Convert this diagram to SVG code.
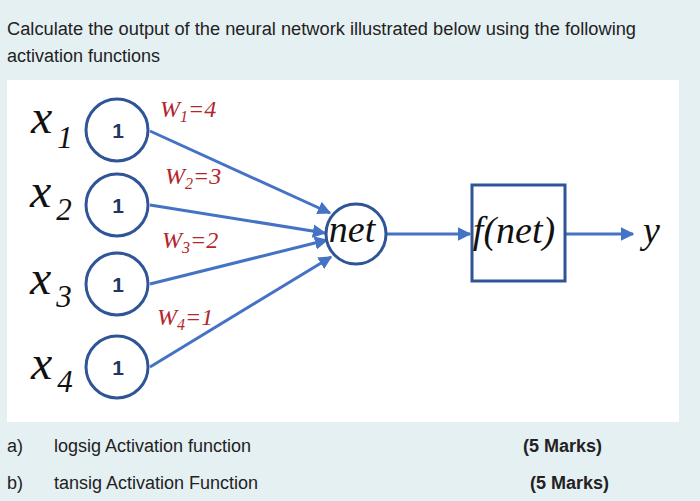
<svg xmlns="http://www.w3.org/2000/svg" width="700" height="501" viewBox="0 0 700 501">
<defs>
<style>
.bg{fill:#e5f0f3}
.panel{fill:#ffffff}
.q{font-family:"Liberation Sans",Arial,sans-serif;font-size:18px;fill:#222}
.qb{font-family:"Liberation Sans",Arial,sans-serif;font-size:18px;font-weight:bold;fill:#222}
.node{fill:#fff;stroke:#2f5597;stroke-width:3}
.one{font-family:"Liberation Sans",Arial,sans-serif;font-size:21px;font-weight:bold;fill:#1f3864;text-anchor:middle}
.xl{font-family:"Liberation Serif","Times New Roman",serif;font-style:italic;font-size:48px;fill:#111}
.xs{font-size:31px}
.w{font-family:"Liberation Serif","Times New Roman",serif;font-style:italic;font-size:24px;fill:#b3262c}
.ws{font-size:16px}
.m{font-family:"Liberation Serif","Times New Roman",serif;font-style:italic;font-size:38px;fill:#111}
.edge{stroke:#4472c4;stroke-width:3;fill:none;marker-end:url(#ah)}
</style>
<marker id="ah" viewBox="0 0 10 10" refX="9" refY="5" markerWidth="4.5" markerHeight="4.5" orient="auto" markerUnits="strokeWidth">
<path d="M0,0 L10,5 L0,10 z" fill="#4472c4"/>
</marker>
</defs>
<rect class="bg" x="0" y="0" width="700" height="501"/>
<rect class="panel" x="7" y="80" width="672" height="342"/>
<text class="q" x="7" y="35" textLength="629" lengthAdjust="spacingAndGlyphs">Calculate the output of the neural network illustrated below using the following</text>
<text class="q" x="7" y="62">activation functions</text>

<g id="connectors">
<line class="edge" x1="150" y1="131" x2="330" y2="213"/>
<line class="edge" x1="150" y1="205" x2="325" y2="233"/>
<line class="edge" x1="150" y1="284" x2="327" y2="240"/>
<line class="edge" x1="150" y1="367" x2="331" y2="257"/>
<line class="edge" x1="387" y1="234" x2="470" y2="234"/>
<line class="edge" x1="566" y1="234" x2="633" y2="234"/>
</g>

<g id="w1"><text class="w" x="160" y="117">W<tspan class="ws" dy="5">1</tspan><tspan dy="-5">=4</tspan></text></g>
<g id="w2"><text class="w" x="165" y="184">W<tspan class="ws" dy="5">2</tspan><tspan dy="-5">=3</tspan></text></g>
<g id="w3"><text class="w" x="162" y="248">W<tspan class="ws" dy="5">3</tspan><tspan dy="-5">=2</tspan></text></g>
<g id="w4"><text class="w" x="157" y="325">W<tspan class="ws" dy="5">4</tspan><tspan dy="-5">=1</tspan></text></g>

<g id="x1">
<text class="xl" x="31" y="133">x<tspan class="xs" dx="5" dy="15">1</tspan></text>
<circle class="node" cx="117" cy="130" r="31"/>
<text class="one" x="118" y="138">1</text>
</g>
<g id="x2">
<text class="xl" x="30" y="207">x<tspan class="xs" dx="5" dy="13">2</tspan></text>
<circle class="node" cx="117" cy="205" r="31"/>
<text class="one" x="118" y="213">1</text>
</g>
<g id="x3">
<text class="xl" x="30" y="294">x<tspan class="xs" dx="5" dy="13">3</tspan></text>
<circle class="node" cx="117" cy="284" r="31"/>
<text class="one" x="118" y="292">1</text>
</g>
<g id="x4">
<text class="xl" x="31" y="379">x<tspan class="xs" dx="5" dy="13">4</tspan></text>
<circle class="node" cx="117" cy="367" r="31"/>
<text class="one" x="118" y="375">1</text>
</g>

<g id="net">
<circle class="node" cx="356" cy="234" r="30"/>
<text class="m" x="352" y="242" text-anchor="middle">net</text>
</g>
<g id="fnet">
<rect class="node" x="472" y="185" width="93" height="96"/>
<text class="m" x="514" y="243" text-anchor="middle">f(net)</text>
</g>
<g id="y">
<text class="m" x="643" y="243">y</text>
</g>

<text class="q" x="7" y="452">a)</text>
<text class="q" x="54" y="452">logsig Activation function</text>
<text class="qb" x="523" y="452">(5 Marks)</text>
<text class="q" x="7" y="489">b)</text>
<text class="q" x="54" y="489">tansig Activation Function</text>
<text class="qb" x="530" y="489">(5 Marks)</text>
</svg>
